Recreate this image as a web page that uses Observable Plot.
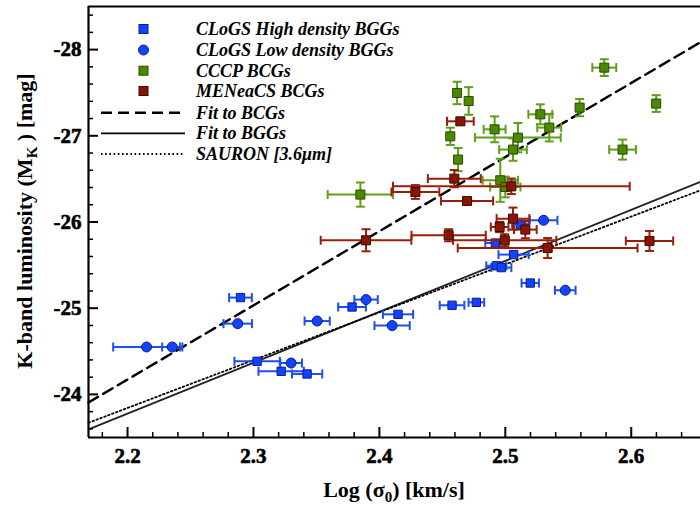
<!DOCTYPE html>
<html><head><meta charset="utf-8">
<script src="https://cdn.jsdelivr.net/npm/d3@7"></script>
<script src="https://cdn.jsdelivr.net/npm/@observablehq/plot@0.6"></script>
<style>
body{margin:0;background:#fff;}
#chart svg{display:block;}
</style></head><body><div id="chart"></div>
<script>
// ---- CLoGS high density BGGs (squares) ----
const hdX    = [2.2897, 2.3029, 2.3220, 2.3426, 2.3783, 2.4148, 2.4577, 2.4770, 2.5119, 2.4921, 2.5066, 2.4929, 2.4968, 2.5198];
const hdY    = [-25.123, -24.384, -24.268, -24.237, -25.014, -24.929, -25.034, -25.068, -25.973, -25.756, -25.622, -25.492, -25.471, -25.292];
const hdXerr = [0.009, 0.018, 0.018, 0.012, 0.011, 0.012, 0.0098, 0.0062, 0.0065, 0.008, 0.012, 0.008, 0.008, 0.0069];
// ---- CLoGS low density BGGs (circles) ----
const ldX    = [2.2151, 2.2355, 2.2875, 2.3506, 2.3299, 2.3894, 2.4101, 2.5304, 2.5476];
const ldY    = [-24.55, -24.55, -24.821, -24.851, -24.364, -25.10, -24.798, -26.02, -25.208];
const ldXerr = [0.0265, 0.008, 0.0113, 0.010, 0.0086, 0.0093, 0.014, 0.011, 0.0082];
// ---- CCCP BCGs ----
const ccX    = [2.4617, 2.4709, 2.4563, 2.4625, 2.4915, 2.5100, 2.5061, 2.5278, 2.5349, 2.5590, 2.5786, 2.6198, 2.5931, 2.4960, 2.5000, 2.3849];
const ccY    = [-27.497, -27.404, -26.994, -26.724, -27.075, -26.979, -26.84, -27.249, -27.095, -27.327, -27.791, -27.374, -26.84, -26.484, -26.406, -26.318];
const ccXerr = [0, 0, 0, 0, 0.0087, 0.034, 0.011, 0.0095, 0.0095, 0, 0.0095, 0, 0.0106, 0.014, 0.012, 0.026];
const ccYerr = [0.13, 0.16, 0.10, 0.135, 0.15, 0.17, 0.13, 0.116, 0.16, 0.10, 0.097, 0.097, 0.116, 0.25, 0.12, 0.14];
// ---- MENeaCS BCGs ----
const meX    = [2.5061, 2.4955, 2.5159, 2.4550, 2.4995, 2.5336, 2.6145, 2.3894, 2.4595, 2.4286, 2.5048, 2.4696, 2.4643];
const meY    = [-26.039, -25.942, -25.912, -25.846, -25.788, -25.698, -25.78, -25.788, -26.503, -26.348, -26.414, -26.244, -27.168];
const meXerr = [0.013, 0.007, 0.009, 0.0295, 0.041, 0.0714, 0.0188, 0.036, 0.021, 0.019, 0.094, 0.0207, 0.0106];
const meYerr = [0.128, 0.06, 0.10, 0.07, 0.07, 0.116, 0.116, 0.128, 0.10, 0.08, 0.09, 0.03, 0.03];
// ---- fits  (M_K = a + b * log sigma) ----
const fitLabels    = ["Fit to BCGs", "Fit to BGGs", "SAURON [3.6\u03bcm]"];
const fitIntercept = [-5.253, -10.777, -11.633];
const fitSlope     = [-8.60, -5.909, -5.55];
// ---- axes ----
const xDomain = [2.169, 2.655];
const yDomain = [-23.5, -28.5];
const xMajor = [2.2, 2.3, 2.4, 2.5, 2.6];
const xMinor = [2.18, 2.22, 2.24, 2.26, 2.28, 2.32, 2.34, 2.36, 2.38, 2.42, 2.44, 2.46, 2.48, 2.52, 2.54, 2.56, 2.58, 2.62, 2.64];
const yMajor = [-28, -27, -26, -25, -24];
const yMinor = [-28.4, -28.2, -27.8, -27.6, -27.4, -27.2, -26.8, -26.6, -26.4, -26.2, -25.8, -25.6, -25.4, -25.2, -24.8, -24.6, -24.4, -24.2, -23.8, -23.6];
const legendLabels = ["CLoGS High density BGGs", "CLoGS Low density BGGs", "CCCP BCGs", "MENeaCS BCGs"];

const C = {
  blueFill: "#1244ff", blueStroke: "#0a1c8c", blueBar: "#1d4ef0",
  greenFill: "#4b8a00", greenStroke: "#2a4a05", greenBar: "#5e9e18",
  redFill: "#8a1500", redStroke: "#3a0a00", redBar: "#991e0a"
};

const rows = (xs, ys, xe, ye) => xs.map((x, i) => ({x, y: ys[i], xe: xe ? xe[i] : 0, ye: ye ? ye[i] : 0}));
const hd = rows(hdX, hdY, hdXerr), ld = rows(ldX, ldY, ldXerr);
const cc = rows(ccX, ccY, ccXerr, ccYerr), me = rows(meX, meY, meXerr, meYerr);

const capV = {draw(ctx, size) { const h = Math.sqrt(size / Math.PI); ctx.moveTo(0, -h); ctx.lineTo(0, h); }};
const capH = {draw(ctx, size) { const h = Math.sqrt(size / Math.PI); ctx.moveTo(-h, 0); ctx.lineTo(h, 0); }};

function errMarks(data, color) {
  const hx = data.filter(d => d.xe > 0), hy = data.filter(d => d.ye > 0);
  const o = {stroke: color, strokeWidth: 2, fill: "none"};
  return [
    Plot.ruleY(hx, {y: "y", x1: d => d.x - d.xe, x2: d => d.x + d.xe, ...o}),
    Plot.dot(hx, {x: d => d.x - d.xe, y: "y", symbol: capV, r: 4.5, ...o}),
    Plot.dot(hx, {x: d => d.x + d.xe, y: "y", symbol: capV, r: 4.5, ...o}),
    Plot.ruleX(hy, {x: "x", y1: d => d.y - d.ye, y2: d => d.y + d.ye, ...o}),
    Plot.dot(hy, {x: "x", y: d => d.y - d.ye, symbol: capH, r: 4.5, ...o}),
    Plot.dot(hy, {x: "x", y: d => d.y + d.ye, symbol: capH, r: 4.5, ...o})
  ];
}
const fitLine = i => xDomain.map(x => ({x, y: fitIntercept[i] + fitSlope[i] * x}));

const font = "'Liberation Serif', 'Times New Roman', serif";
const lblStyle = {fontFamily: font, fontWeight: "bold", fontSize: 21, fill: "#000", stroke: "#000", strokeWidth: 0.6};
const plot = Plot.plot({
  width: 700, height: 505,
  marginLeft: 88, marginRight: 0, marginTop: 6, marginBottom: 68,
  x: {domain: xDomain},
  y: {domain: yDomain},
  style: {fontFamily: font, background: "#fff", color: "#000"},
  marks: [
    Plot.line(fitLine(0), {x: "x", y: "y", stroke: "#000", strokeWidth: 2.4, strokeDasharray: "11,6"}),
    Plot.line(fitLine(1), {x: "x", y: "y", stroke: "#222", strokeWidth: 1.8}),
    Plot.line(fitLine(2), {x: "x", y: "y", stroke: "#000", strokeWidth: 1.8, strokeDasharray: "1.6,2.6"}),
    ...errMarks(hd, C.blueBar),
    ...errMarks(ld, C.blueBar),
    Plot.dot(hd, {x: "x", y: "y", symbol: "square", r: 4.7, fill: C.blueFill, stroke: C.blueStroke, strokeWidth: 1}),
    Plot.dot(ld, {x: "x", y: "y", symbol: "circle", r: 5, fill: C.blueFill, stroke: C.blueStroke, strokeWidth: 1}),
    ...errMarks(cc, C.greenBar),
    Plot.dot(cc, {x: "x", y: "y", symbol: "square", r: 5.1, fill: C.greenFill, stroke: C.greenStroke, strokeWidth: 1}),
    ...errMarks(me, C.redBar),
    Plot.dot(me, {x: "x", y: "y", symbol: "square", r: 5.1, fill: C.redFill, stroke: C.redStroke, strokeWidth: 1}),
    // axes: inward ticks
    Plot.axisX({ticks: xMajor, tickSize: -10, strokeWidth: 2, tickFormat: () => "", label: null}),
    Plot.axisX({ticks: xMinor, tickSize: -5, strokeWidth: 1.5, tickFormat: () => "", label: null}),
    Plot.axisY({ticks: yMajor, tickSize: -10, strokeWidth: 2, tickFormat: () => "", label: null}),
    Plot.axisY({ticks: yMinor, tickSize: -5, strokeWidth: 1.5, tickFormat: () => "", label: null}),
    // tick labels
    Plot.text(xMajor, {x: d => d, text: d => d.toFixed(1), frameAnchor: "bottom", lineAnchor: "top", dy: 11, ...lblStyle}),
    Plot.text(yMajor, {y: d => d, text: d => String(d), frameAnchor: "left", textAnchor: "end", dx: -7, ...lblStyle}),
    Plot.ruleX([xDomain[0]], {stroke: "#000", strokeWidth: 2.2}),
    Plot.ruleY([yDomain[0]], {stroke: "#000", strokeWidth: 2.2}),
    Plot.ruleY([yDomain[1]], {stroke: "#000", strokeWidth: 2.2})
  ]
});
document.getElementById("chart").appendChild(plot);

// ---- titles & legend ----
const svg = d3.select(plot);
const xt = svg.append("text").attr("x", 394).attr("y", 497).attr("text-anchor", "middle")
  .style("font-family", font).style("font-weight", "bold").style("font-size", "22px").attr("fill", "#000");
xt.append("tspan").text("Log (\u03c3");
xt.append("tspan").attr("dy", 5).style("font-size", "15px").text("0");
xt.append("tspan").attr("dy", -5).text(") [km/s]");

const yt = svg.append("text").attr("transform", "translate(32,221) rotate(-90)").attr("text-anchor", "middle")
  .style("font-family", font).style("font-weight", "bold").style("font-size", "22px").attr("fill", "#000");
yt.append("tspan").text("K-band luminosity (M");
yt.append("tspan").attr("dy", 5).style("font-size", "15px").text("K");
yt.append("tspan").attr("dy", -5).text(" ) [mag]");

const lg = svg.append("g");
const rowsY = [29, 50, 70.7, 91, 112.7, 133.3, 154];
const sym = [
  {t: "sq", f: C.blueFill, s: C.blueStroke},
  {t: "ci", f: C.blueFill, s: C.blueStroke},
  {t: "sq", f: C.greenFill, s: C.greenStroke},
  {t: "sq", f: C.redFill, s: C.redStroke}
];
sym.forEach((m, i) => {
  const y = rowsY[i];
  if (m.t === "sq") lg.append("rect").attr("x", 143.5 - 4.5).attr("y", y - 4.5).attr("width", 9).attr("height", 9).attr("fill", m.f).attr("stroke", m.s);
  else lg.append("circle").attr("cx", 143.5).attr("cy", y).attr("r", 5).attr("fill", m.f).attr("stroke", m.s);
});
const dashes = ["11,6", null, "1.6,2.6"];
const widths = [2.4, 1.8, 1.8];
fitLabels.forEach((l, i) => {
  const y = rowsY[4 + i];
  lg.append("line").attr("x1", 101).attr("x2", 185).attr("y1", y).attr("y2", y)
    .attr("stroke", "#000").attr("stroke-width", widths[i]).attr("stroke-dasharray", dashes[i]);
});
legendLabels.concat(fitLabels).forEach((l, i) => {
  lg.append("text").attr("x", 196).attr("y", rowsY[i] + 6).attr("text-anchor", "start").text(l)
    .style("font-family", font).style("font-weight", "bold").style("font-style", "italic").style("font-size", "18px").attr("fill", "#000");
});
</script></body></html>
